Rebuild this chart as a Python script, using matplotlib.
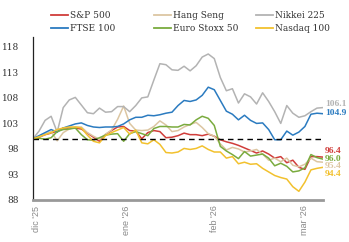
import numpy as np
import matplotlib.pyplot as plt
from matplotlib.lines import Line2D

# session index (every 2nd trading session, 0..96)
sessions = np.arange(0, 97, 2)

sp500 = [100, 100.3, 100.8, 101.1, 101.5, 102.1, 102.1, 102.1, 101.9, 101.1,
         100.3, 99.5, 100.8, 101.6, 102.3, 102.4, 101.6, 101.5, 100.0, 101.2,
         101.6, 101.4, 100.2, 100.3, 100.6, 101.1, 100.8, 100.8, 100.6, 100.9,
         100.5, 99.8, 99.4, 99.1, 98.7, 98.2, 97.7, 97.2, 97.6, 97.0,
         96.2, 96.5, 95.3, 95.8, 94.4, 94.0, 96.5, 96.5, 96.4]
hang_seng = [100, 100.4, 100.9, 101.4, 99.6, 101.2, 101.9, 102.3, 102.3, 101.2,
             100.5, 99.9, 100.9, 101.7, 103.8, 106.4, 103.0, 101.7, 101.6, 101.7,
             102.4, 103.5, 102.7, 101.4, 101.6, 102.3, 102.8, 103.2, 102.2, 101.0,
             100.5, 99.0, 97.8, 98.3, 98.0, 97.4, 97.6, 97.9, 97.0, 95.8,
             96.2, 95.5, 96.2, 94.8, 94.5, 95.0, 96.2, 95.5, 95.4]
nikkei = [100, 101.5, 103.6, 104.4, 101.3, 106.1, 107.6, 108.1, 106.6, 105.1,
          104.9, 106.0, 105.2, 105.3, 106.3, 106.3, 105.3, 106.5, 108.0, 108.2,
          111.5, 114.7, 114.5, 113.5, 113.4, 114.2, 113.3, 114.3, 116.0, 116.6,
          115.7, 112.0, 109.4, 109.8, 107.0, 108.8, 108.2, 106.8, 109.0, 107.3,
          105.3, 103.0, 106.5, 105.0, 104.2, 104.5, 105.3, 106.0, 106.1]
ftse = [100, 100.6, 101.2, 101.8, 101.3, 102.1, 102.5, 102.9, 103.1, 102.6,
        102.3, 102.2, 102.3, 102.3, 102.4, 102.9, 103.7, 104.2, 104.2, 104.6,
        104.5, 104.7, 105.0, 105.2, 106.5, 107.5, 107.3, 107.6, 108.5, 110.1,
        109.6, 107.5, 105.4, 104.8, 103.7, 104.6, 103.6, 103.0, 103.1, 101.8,
        99.8, 99.8, 101.5, 100.7, 101.3, 102.4, 104.8, 105.0, 104.9]
stoxx = [100, 100.1, 99.9, 100.2, 101.4, 101.8, 101.9, 102.1, 100.8, 99.8,
         99.7, 100.2, 100.7, 100.9, 101.0, 99.5, 101.0, 101.4, 101.0, 100.6,
         102.0, 102.4, 102.4, 102.3, 102.3, 102.8, 102.7, 103.7, 104.4, 104.0,
         102.6, 98.5, 97.6, 96.9, 96.1, 97.5, 96.6, 96.8, 97.0, 96.2,
         94.7, 95.2, 94.6, 93.5, 93.7, 94.3, 96.9, 96.3, 96.0]
nasdaq = [100, 100.4, 100.8, 101.2, 101.8, 102.1, 102.3, 102.3, 102.1, 100.7,
          99.5, 99.2, 100.6, 101.2, 101.7, 102.2, 100.9, 101.7, 99.2, 99.0,
          99.8, 98.9, 97.3, 97.2, 97.4, 98.1, 97.9, 98.1, 98.6, 97.9,
          97.4, 97.4, 96.2, 96.5, 95.1, 95.4, 95.0, 95.1, 94.2, 93.5,
          92.8, 92.4, 92.1, 90.6, 89.7, 91.5, 93.9, 94.2, 94.4]

names = ["S&P 500", "Hang Seng", "Nikkei 225", "FTSE 100", "Euro Stoxx 50", "Nasdaq 100"]
series = [sp500, hang_seng, nikkei, ftse, stoxx, nasdaq]
colors = ["#d03d3a", "#dcc6a2", "#b3b3b3", "#2b7bc0", "#7aab3e", "#f2c12e"]
# label nudges (points) so end labels don't overlap
nudge = [4.6, -3.0, 2.6, 0.7, 0.3, -4.8]

tick_pos = [1, 31, 60, 90]
tick_labels = ["dic '25", "ene '26", "feb '26", "mar '26"]
yticks = [88, 93, 98, 103, 108, 113, 118]

plt.rcParams['font.family'] = ['DejaVu Serif']

fig = plt.figure(figsize=(3.49, 2.42), dpi=100)
ax = fig.add_axes([0.0946, 0.1736, 0.831, 0.675])

for vals, c in zip(series, colors):
    ax.plot(sessions, vals, color=c, lw=1.1, solid_joinstyle='round')

ax.axhline(100, color='black', lw=1.0, ls=(0, (4, 3)))

ax.set_xlim(0, 96)
ax.set_ylim(88, 120)
ax.set_yticks(yticks)
ax.set_yticklabels([str(v) for v in yticks], fontsize=6.5, color='#333333')
ax.set_xticks(tick_pos)
ax.set_xticklabels(tick_labels, rotation=90, fontsize=6.5, color='#888888',
                   family='Liberation Sans')
ax.tick_params(length=0, pad=4)
ax.tick_params(axis='y', pad=10)

for s in ['top', 'right']:
    ax.spines[s].set_visible(False)
ax.spines['left'].set_color('#222222')
ax.spines['left'].set_linewidth(0.9)
ax.spines['bottom'].set_color('#999999')
ax.spines['bottom'].set_linewidth(2)

# end-of-line value labels
for i, vals in enumerate(series):
    v = vals[-1]
    ax.annotate(f"{v:.1f}", (sessions[-1], v), xytext=(1.5, nudge[i]),
                textcoords='offset points', va='center', ha='left',
                fontsize=6.8, fontweight='bold', color=colors[i],
                family='Liberation Serif', annotation_clip=False)

handles = [Line2D([], [], color=c, lw=1.3) for c in colors]
col_x = [0.125, 0.42, 0.712]
for j in range(3):
    idx = [j, j + 3]
    fig.legend([handles[k] for k in idx], [names[k] for k in idx],
               loc='upper left', bbox_to_anchor=(col_x[j], 0.985),
               frameon=False, fontsize=6.5, handlelength=1.9,
               handletextpad=0.2, labelspacing=0.45, borderpad=0.3,
               labelcolor='#333333')

fig.savefig("out.png", dpi=100)
